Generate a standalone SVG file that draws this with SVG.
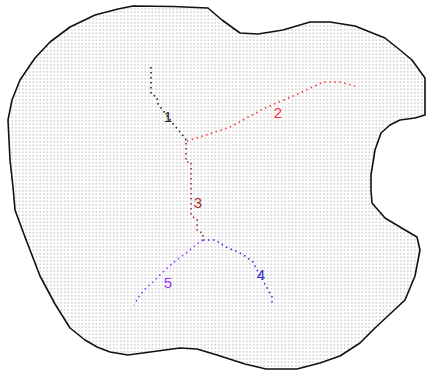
<svg xmlns="http://www.w3.org/2000/svg" width="426" height="374" viewBox="0 0 426 374">
<defs>
<pattern id="dots" width="3.5" height="3.5" patternUnits="userSpaceOnUse">
<rect width="3.5" height="3.5" fill="#ffffff"/>
<rect x="1" y="1" width="1.6" height="1.6" fill="#cfcfcf"/>
</pattern>
<style>
.outline{fill:url(#dots);stroke:#111;stroke-width:1.6;stroke-linejoin:round}
.br{fill:none;stroke-width:1.6;stroke-dasharray:1.5 3.5}
.lbl{font-family:"Liberation Sans",Arial,sans-serif;font-size:15px;text-anchor:middle}
</style>
</defs>
<rect width="426" height="374" fill="#ffffff"/>
<path id="region" class="outline" d="M133,6 L173,6.5 L208,8 L222,20 L240,33 L258,34 L283,30 L310,22 L330,22 L355,26 L385,38 L400,50 L412,60 L425,78 L425,115 L415,118 L400,120 L390,125 L381,133 L375,150 L371,175 L371,190 L372,203 L385,218 L405,230 L417,237 L420,250 L415,276 L405,300 L390,314 L375,328 L360,343 L340,356 L320,363 L297,369 L266,369 L245,364 L217,355 L197,349 L180,348 L165,350 L128,355 L110,352 L97,347 L85,340 L70,328 L55,304 L40,276 L25,237 L15,210 L13,187 L10,160 L8,120 L12,100 L20,80 L35,58 L50,42 L70,27 L95,15 L118,9 Z"/>
<g id="connectors">
<path id="c1" class="br" stroke="#222222" d="M151,67 L151,94 L157,97 L158,104 L165,113 L174,125 L180,132 L187,141"/>
<path id="c2" class="br" stroke="#ff3333" d="M187,141 L200,137 L230,127 L265,108 L300,93 L323,82 L340,82 L355,86"/>
<path id="c3" class="br" stroke="#aa2a2a" d="M186,143 L186,162 L191,162 L191,216 L197,219 L197,231 L203,233 L203,240"/>
<path id="c4" class="br" stroke="#3030cc" d="M203,240 L215,240 L226,247 L238,252 L245,256 L253,262 L256,268 L266,286 L272,297 L272,303"/>
<path id="c5" class="br" stroke="#9933ff" d="M203,240 L197,244 L186,253 L174,262 L163,272 L152,283 L146,288 L140,295 L134,305"/>
</g>
<g id="n1"><text class="lbl" x="168" y="122" fill="#222222">1</text></g>
<g id="n2"><text class="lbl" x="278" y="118" fill="#ff3333">2</text></g>
<g id="n3"><text class="lbl" x="198" y="208" fill="#aa2a2a">3</text></g>
<g id="n4"><text class="lbl" x="261" y="280" fill="#3030cc">4</text></g>
<g id="n5"><text class="lbl" x="168" y="288" fill="#9933ff">5</text></g>
</svg>
